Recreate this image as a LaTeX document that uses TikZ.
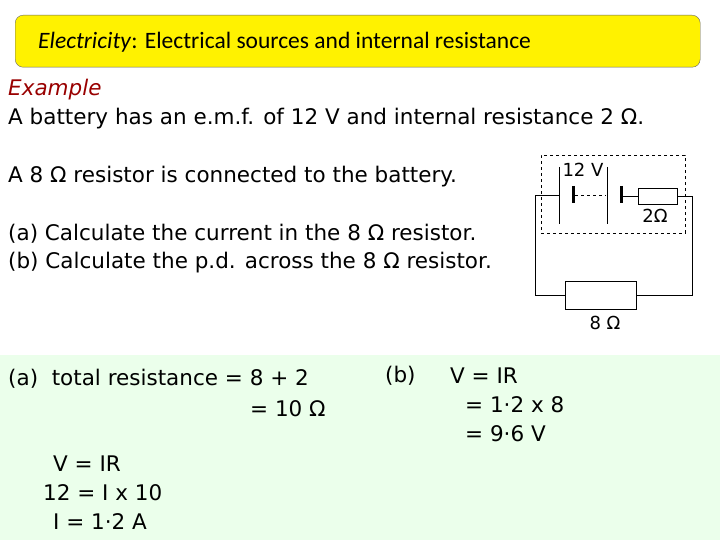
\documentclass[tikz,border=0pt]{standalone}
\usepackage{fontspec}
\setmainfont{DejaVu Sans}
\newfontfamily\titlefont{Carlito}
\begin{document}
\begin{tikzpicture}[x=1pt,y=-1pt,
  body/.style={anchor=west,inner sep=0pt,font=\fontsize{21.5}{24}\selectfont},
  wire/.style={line width=0.8pt},
  lbl/.style={inner sep=0pt,font=\fontsize{18}{20}\selectfont}]
\useasboundingbox (0,0) rectangle (720,540);
\fill[white] (0,0) rectangle (720,540);
\fill[green!8!white] (0,355) rectangle (720,540);
\node[draw=black!60,fill=yellow,rounded corners=8pt,minimum width=685pt,minimum height=52pt,anchor=north west] (title) at (15,15) {};
\node[anchor=west,inner sep=0pt,font=\titlefont\fontsize{23.5}{26}\selectfont] (tt) at (38,42) {\textit{Electricity}: Electrical sources and internal resistance};
\node[body,text=red!60!black] (ex) at (8,90) {\textit{Example}};
\node[body] (l1) at (8,119) {A battery has an e.m.f. of 12 V and internal resistance 2 Ω.};
\node[body] (l2) at (8,177) {A 8 Ω resistor is connected to the battery.};
\node[body] (l3) at (8,234) {(a) Calculate the current in the 8 Ω resistor.};
\node[body] (l4) at (8,263) {(b) Calculate the p.d. across the 8 Ω resistor.};
% circuit
\node[draw,dashed,minimum width=144pt,minimum height=78pt,anchor=north west,inner sep=0pt] (box) at (541,155) {};
\coordinate (p1) at (559,167); \coordinate (p1b) at (559,224);
\coordinate (p2) at (607,167); \coordinate (p2b) at (607,224);
\draw[wire] (p1) -- (p1b);
\draw[wire] (p2) -- (p2b);
\draw[line width=3pt] (573,186) -- (573,203);
\draw[line width=3pt] (621,186) -- (621,203);
\draw[dashed] (575,195) -- (606,195);
\node[draw,wire,minimum width=39pt,minimum height=16pt,inner sep=0pt] (r2) at (657.5,196) {};
\node[draw,wire,minimum width=71pt,minimum height=28pt,inner sep=0pt] (r8) at (600.5,295) {};
\draw[wire] (621,196) -- (r2.west);
\draw[wire] (r2.east) -- (692,196) -- (692,295) -- (r8.east);
\draw[wire] (r8.west) -- (535,295) -- (535,195) -- (559,195);
\node[lbl,fill=white,inner sep=1pt] (v12) at (583,170) {12 V};
\node[lbl] (o2) at (655,216) {2Ω};
\node[lbl] (o8) at (605,323) {8 Ω};
% answers
\node[body] (a1) at (8,379) {(a)\ \ total resistance = 8 + 2};
\node[body] (a2) at (250,409) {= 10 Ω};
\node[body] (a3) at (53,464) {V = IR};
\node[body] (a4) at (43,493) {12 = I x 10};
\node[body] (a5) at (53,522) {I = 1·2 A};
\node[body] (b1) at (385,376) {(b)};
\node[body] (b2) at (450,376) {V = IR};
\node[body] (b3) at (465,405) {= 1·2 x 8};
\node[body] (b4) at (465,434) {= 9·6 V};
\end{tikzpicture}
\end{document}
